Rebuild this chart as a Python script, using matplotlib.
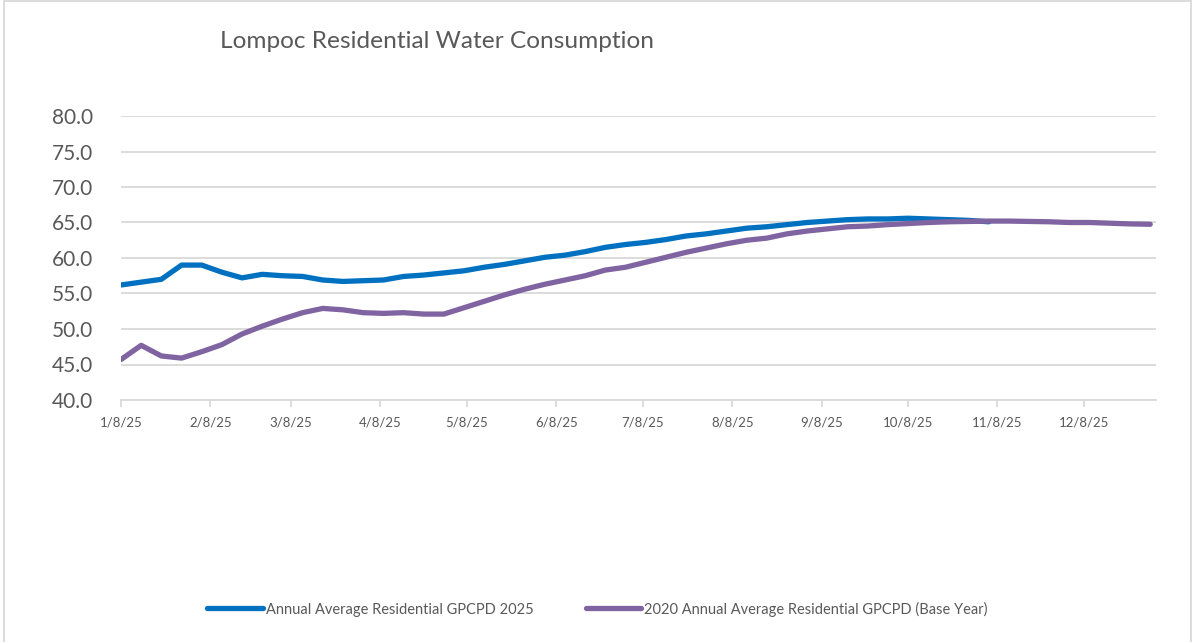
import matplotlib
matplotlib.use("Agg")
import matplotlib.pyplot as plt
import matplotlib.dates as mdates
from matplotlib.ticker import FuncFormatter, MultipleLocator
from matplotlib.patches import Rectangle
import pandas as pd
import datetime as dt

# ---- data ----
week_dates = pd.date_range("2025-01-08", periods=52, freq="7D")

gpcpd_2025 = [56.2, 56.6, 57.0, 59.0, 59.0, 58.0, 57.2, 57.7, 57.5, 57.4,
              56.9, 56.7, 56.8, 56.9, 57.4, 57.6, 57.9, 58.2, 58.7, 59.1,
              59.6, 60.1, 60.4, 60.9, 61.5, 61.9, 62.2, 62.6, 63.1, 63.4,
              63.8, 64.2, 64.4, 64.7, 65.0, 65.2, 65.4, 65.5, 65.5, 65.6,
              65.5, 65.4, 65.3, 65.1]

gpcpd_2020 = [45.7, 47.7, 46.2, 45.9, 46.8, 47.8, 49.3, 50.4, 51.4, 52.3,
              52.9, 52.7, 52.3, 52.2, 52.3, 52.1, 52.1, 53.0, 53.9, 54.8,
              55.6, 56.3, 56.9, 57.5, 58.3, 58.7, 59.4, 60.1, 60.8, 61.4,
              62.0, 62.5, 62.8, 63.4, 63.8, 64.1, 64.4, 64.5, 64.7, 64.85,
              65.0, 65.1, 65.15, 65.2, 65.2, 65.15, 65.1, 65.0, 65.0, 64.9,
              64.8, 64.75]

series_labels = ["Annual Average Residential GPCPD 2025",
                 "2020 Annual Average Residential GPCPD (Base Year)"]
title = "Lompoc Residential Water Consumption"

# ---- figure ----
plt.rcParams['font.family'] = ['Lato', 'DejaVu Sans']
fig = plt.figure(figsize=(11.95, 6.42), dpi=100)
fig.patch.set_facecolor("white")
ax = fig.add_axes([121/1195, 1 - 400/642, (1156 - 121)/1195, (400 - 116)/642])

text_col = "#595959"
grid_col = "#d9d9d9"

ax.plot(week_dates[:len(gpcpd_2025)], gpcpd_2025, color="#0070C0", lw=3.8,
        solid_capstyle="round", solid_joinstyle="round", label=series_labels[0], zorder=3)
ax.plot(week_dates[:len(gpcpd_2020)], gpcpd_2020, color="#8064A2", lw=3.8,
        solid_capstyle="round", solid_joinstyle="round", label=series_labels[1], zorder=4)

ax.set_ylim(40, 80)
ax.yaxis.set_major_locator(MultipleLocator(5))
ax.yaxis.set_major_formatter(FuncFormatter(lambda v, p: f"{v:.1f}"))
ax.set_xlim(dt.datetime(2025, 1, 8), dt.datetime(2026, 1, 2))
ax.xaxis.set_major_locator(mdates.MonthLocator(bymonthday=8))
ax.xaxis.set_major_formatter(FuncFormatter(
    lambda v, p: (lambda d: f"{d.month}/{d.day}/{d.strftime('%y')}")(mdates.num2date(v))))

ax.grid(axis="y", color=grid_col, lw=1.3, zorder=0)
for s in ["top", "right", "left"]:
    ax.spines[s].set_visible(False)
ax.spines["bottom"].set_color(grid_col)
ax.spines["bottom"].set_linewidth(1.3)
ax.tick_params(axis="y", length=0, labelsize=15, labelcolor=text_col, pad=20)
ax.tick_params(axis="x", length=5, color=grid_col, width=1.3, labelsize=9.5,
               labelcolor=text_col, pad=7)

fig.text(220/1195, 1 - 41/642, title, fontsize=17.6, color=text_col,
         ha="left", va="center")

leg = fig.legend(loc="center", bbox_to_anchor=(0.5, 1 - 609/642), ncol=2, frameon=False,
                 fontsize=10.5, handlelength=3.8, handletextpad=0.2, columnspacing=3.6)
for t in leg.get_texts():
    t.set_color(text_col)

fig.patches.append(Rectangle((0.003, -0.01), 0.994, 1.008, transform=fig.transFigure,
                             fill=False, edgecolor="#d9d9d9", lw=1.3))

fig.savefig("out.png", dpi=100, facecolor="white")
